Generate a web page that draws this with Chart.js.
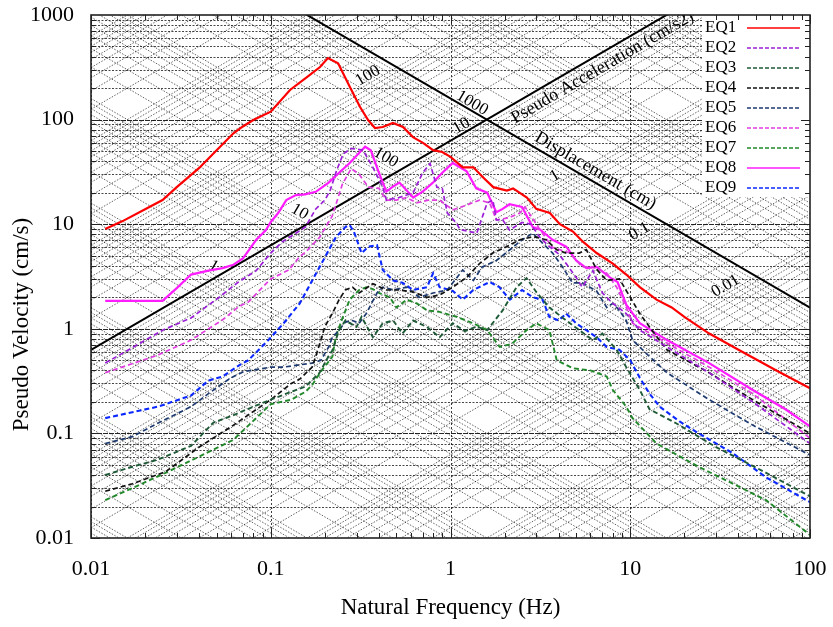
<!DOCTYPE html>
<html>
<head>
<meta charset="utf-8">
<script src="https://cdn.jsdelivr.net/npm/chart.js@4.4.1/dist/chart.umd.min.js"></script>
<style>
  html, body { margin: 0; padding: 0; background: #fff; }
</style>
</head>
<body>
<canvas id="myChart" width="833" height="627"></canvas>
<script>
// ---- data (frequency in Hz, pseudo velocity in cm/s) ----
const seriesNames = ['EQ1', 'EQ2', 'EQ3', 'EQ4', 'EQ5', 'EQ6', 'EQ7', 'EQ8', 'EQ9'];

const eq1Freq = [0.012,0.015,0.02,0.025,0.03,0.04,0.05,0.062,0.07,0.08,0.1,0.128,0.159,0.188,0.208,0.237,0.276,0.314,0.348,0.38,0.42,0.478,0.544,0.618,0.703,0.8,0.9,1.0,1.17,1.34,1.52,1.73,2.06,2.23,2.66,3.0,3.57,4.06,4.8,5.45,6.5,8.0,9.5,11.3,14,17,20,27.5,40,65,100];
const eq1Vel = [9,10.7,13.9,17,22.6,34.5,51,74,86,99,119,192,255,318,388,346,204,132,99,83,85,93,85,68,60,51,49,44,35,35,28,22.6,21,22,18,14,12.8,10,8.5,6.8,5.3,4.2,3.3,2.5,1.9,1.6,1.3,0.9,0.63,0.40,0.27];

const eq2Freq = [0.012,0.025,0.036,0.051,0.065,0.083,0.1,0.116,0.138,0.156,0.178,0.2,0.214,0.233,0.253,0.28,0.326,0.37,0.42,0.44,0.52,0.62,0.7,0.77,0.84,0.9,0.96,1.08,1.13,1.4,1.6,1.72,1.8,1.95,2.13,2.5,2.8,3.14,3.55,4.0,4.4,5.0,5.4,6.2,7.0,8.0,9.5,11.3,16,27.5,48,100];
const eq2Vel = [0.47,0.97,1.27,1.97,2.74,3.6,5.3,6.8,8.2,9.4,14,17,21,33,47,53,51,35,22.6,17,18,20,31,38,22.6,22,12.8,10.2,8.9,8.2,16,17,11,11,8.8,10.4,10,7.5,6.1,5.2,4.2,3.1,2.5,3.6,2.2,1.75,1.4,0.97,0.67,0.38,0.2,0.08];

const eq3Freq = [0.012,0.017,0.0235,0.036,0.042,0.048,0.06,0.08,0.1,0.13,0.156,0.187,0.21,0.22,0.24,0.26,0.3,0.32,0.37,0.42,0.48,0.54,0.62,0.74,0.87,1.03,1.2,1.4,1.6,1.95,2.33,2.65,3.0,3.55,4.4,5.2,6.2,7.0,8.4,9.5,11.3,12.8,18,30,57,100];
const eq3Vel = [0.04,0.048,0.056,0.076,0.1,0.127,0.146,0.18,0.21,0.25,0.28,0.38,0.55,0.62,0.97,1.2,1.04,1.3,0.83,1.13,1.2,0.9,1.2,1.04,0.83,1.13,0.95,1.05,0.97,1.5,2.5,3.05,2.25,1.6,1.2,0.97,0.78,0.9,0.63,0.43,0.26,0.17,0.125,0.074,0.042,0.025];

const eq4Freq = [0.012,0.017,0.026,0.04,0.062,0.1,0.13,0.145,0.17,0.18,0.19,0.2,0.22,0.24,0.26,0.285,0.31,0.37,0.44,0.52,0.62,0.74,0.87,1.03,1.23,1.45,1.72,2.05,2.43,2.9,3.4,3.9,4.4,5.2,5.7,6.5,7.4,8.7,10,11.3,13.3,16,27.5,48,100];
const eq4Vel = [0.028,0.033,0.043,0.074,0.12,0.21,0.3,0.33,0.43,0.58,0.78,1.05,1.4,1.9,2.35,2.5,2.2,2.7,2.35,2.35,2.25,2.0,2.1,2.5,3.1,4.2,5.3,6.1,7.1,7.6,7.1,5.7,5.3,5.3,5.7,3.7,2.9,3.0,2.0,1.4,0.95,0.63,0.38,0.21,0.1];

const eq5Freq = [0.012,0.017,0.0235,0.036,0.045,0.06,0.071,0.1,0.117,0.17,0.19,0.21,0.22,0.24,0.26,0.285,0.31,0.34,0.39,0.42,0.48,0.57,0.67,0.8,0.96,1.03,1.17,1.34,1.5,1.8,2.14,2.5,2.87,3.25,3.7,4.2,4.77,5.4,6.5,7.4,8.0,8.7,9.5,10.3,12.3,16,27.5,48,100];
const eq5Vel = [0.08,0.093,0.125,0.18,0.24,0.34,0.39,0.43,0.43,0.47,0.5,0.67,0.83,0.97,1.16,1.2,1.13,1.4,2.2,2.5,2.35,2.5,2.0,2.2,2.35,2.75,3.65,2.9,3.9,4.5,5.7,7.1,8.2,6.6,5.3,3.9,2.75,2.75,2.3,1.6,1.75,1.5,1.2,0.78,0.58,0.38,0.21,0.12,0.062];

const eq6Freq = [0.012,0.0235,0.036,0.054,0.067,0.075,0.086,0.1,0.126,0.145,0.156,0.187,0.22,0.25,0.28,0.31,0.35,0.4,0.44,0.5,0.57,0.65,0.75,0.87,1.03,1.2,1.45,1.65,1.8,2.1,2.43,2.6,3.14,3.7,4.6,5.4,6.2,7.4,8.4,9.5,10.3,16,27.5,48,100];
const eq6Vel = [0.38,0.56,0.78,1.22,1.65,1.8,2.3,3.0,3.65,4.9,5.4,7.5,12,24,34,30,22.6,22,17,17,18,16,17,17,13.7,15,17,16,11,11.5,12.8,14.6,8.9,6,5.3,3.9,3.9,3.4,2.5,1.6,1.13,0.73,0.43,0.24,0.09];

const eq7Freq = [0.012,0.017,0.026,0.04,0.062,0.1,0.13,0.156,0.17,0.19,0.22,0.23,0.25,0.275,0.31,0.34,0.37,0.4,0.46,0.5,0.57,0.65,0.74,0.87,1.08,1.34,1.6,1.88,2.2,2.65,3.0,3.55,3.9,4.8,6.0,7.4,8.0,9.5,10.3,14,24,57,100];
const eq7Vel = [0.023,0.03,0.042,0.06,0.087,0.19,0.21,0.25,0.29,0.39,0.54,0.84,1.25,1.9,2.35,2.5,2.4,2.2,2.0,1.6,1.9,1.75,1.5,1.45,1.3,1.13,0.97,0.67,0.72,0.97,1.13,0.97,0.5,0.42,0.4,0.35,0.26,0.18,0.14,0.08,0.048,0.023,0.0107];

const eq8Freq = [0.012,0.025,0.03,0.036,0.045,0.054,0.062,0.07,0.077,0.083,0.094,0.1,0.11,0.122,0.138,0.155,0.178,0.21,0.24,0.275,0.31,0.335,0.36,0.4,0.44,0.48,0.52,0.62,0.7,0.8,0.9,1.03,1.23,1.39,1.6,1.8,1.95,2.13,2.5,2.87,3.14,3.7,4.4,5.0,5.7,6.5,7.7,8.5,9.5,11.3,16,27.5,48,73,100];
const eq8Vel = [1.85,1.85,2.45,3.3,3.6,3.8,4.1,4.7,5.9,7.1,8.8,10.5,12.8,17,19,19.3,20.4,25,31,38.5,48,55,51,31,20.5,23,25,18,20.5,25,31,38.5,32,22,20,13,14,15.5,14.6,9.4,8.9,7.1,6.1,4.5,3.8,3.9,3.1,2.8,1.7,1.13,0.78,0.47,0.26,0.17,0.117];

const eq9Freq = [0.012,0.0235,0.036,0.045,0.054,0.067,0.075,0.097,0.118,0.145,0.187,0.23,0.26,0.275,0.29,0.32,0.35,0.39,0.42,0.48,0.54,0.62,0.74,0.8,0.87,1.03,1.17,1.34,1.65,1.87,2.14,2.5,2.87,3.25,3.55,4.0,4.4,5.0,5.7,6.5,7.4,8.7,10,11.3,12.8,14.6,18.8,24,37,57,100];
const eq9Vel = [0.14,0.18,0.23,0.32,0.35,0.45,0.5,0.78,1.13,1.75,3.9,7.5,9.4,9.8,8.5,5.3,6.1,6.3,3.65,2.9,2.75,2.35,2.5,3.4,2.5,2.3,1.9,2.35,2.8,2.5,1.9,2.35,2.0,1.9,1.3,1.2,1.4,1.13,0.97,0.83,0.67,0.63,0.5,0.34,0.24,0.18,0.13,0.1,0.065,0.038,0.022];

const xTickValues = [0.01, 0.1, 1, 10, 100];
const xTickLabels = ['0.01', '0.1', '1', '10', '100'];
const yTickValues = [0.01, 0.1, 1, 10, 100, 1000];
const yTickLabels = ['0.01', '0.1', '1', '10', '100', '1000'];

// tripartite reference lines and their labels
const refAccel = 1000;                  // cm/s2, bold line falling to the right
const refDisp = 10;                     // cm, bold line rising to the right
const accelLabels = [1, 10, 100, 1000]; // written along the displacement line
const dispLabels = [100, 10, 1, 0.1, 0.01]; // written along the acceleration line

// ---- styles ----
const eqStyles = [
  { color: '#ff0000', dash: [], width: 2.2 },
  { color: '#9b1fd6', dash: [5, 3], width: 1.7 },
  { color: '#1f5a37', dash: [5, 3], width: 1.9 },
  { color: '#111111', dash: [5, 3], width: 1.7 },
  { color: '#1d3a70', dash: [5, 3], width: 1.7 },
  { color: '#e13de1', dash: [5, 3], width: 1.7 },
  { color: '#21892a', dash: [5, 3], width: 1.9 },
  { color: '#ff1cff', dash: [], width: 2.2 },
  { color: '#0a28ff', dash: [5, 3], width: 2.1 }
];
const serif = '"Liberation Serif", "Times New Roman", serif';

const freqs = [eq1Freq, eq2Freq, eq3Freq, eq4Freq, eq5Freq, eq6Freq, eq7Freq, eq8Freq, eq9Freq];
const vels = [eq1Vel, eq2Vel, eq3Vel, eq4Vel, eq5Vel, eq6Vel, eq7Vel, eq8Vel, eq9Vel];

const datasets = seriesNames.map((name, i) => ({
  label: name,
  data: freqs[i].map((f, j) => ({ x: f, y: vels[i][j] })),
  borderColor: eqStyles[i].color,
  borderWidth: eqStyles[i].width,
  borderDash: eqStyles[i].dash,
  pointRadius: 0,
  fill: false,
  tension: 0
}));

function drawLine(ctx, x0, y0, x1, y1) {
  ctx.beginPath();
  ctx.moveTo(x0, y0);
  ctx.lineTo(x1, y1);
  ctx.stroke();
}

function rotatedText(ctx, text, px, py, angle, align) {
  ctx.save();
  ctx.translate(px, py);
  ctx.rotate(angle);
  ctx.textAlign = align;
  ctx.textBaseline = 'middle';
  ctx.fillText(text, 0, 0);
  ctx.restore();
}

// grid of constant velocity, acceleration and displacement + the two bold lines
const tripartite = {
  id: 'tripartite',
  beforeDatasetsDraw(chart) {
    const { ctx, chartArea: a, scales: { x, y } } = chart;
    const twoPi = 2 * Math.PI;
    const fMin = x.min, fMax = x.max;
    ctx.save();
    ctx.fillStyle = '#fff';
    ctx.fillRect(a.left, a.top, a.width, a.height);
    ctx.beginPath();
    ctx.rect(a.left, a.top, a.width, a.height);
    ctx.clip();

    // horizontal lines at every 1..9 x 10^n
    ctx.lineWidth = 1;
    for (let e = -2; e <= 2; e++) {
      for (let k = 1; k <= 9; k++) {
        const py = Math.round(y.getPixelForValue(k * Math.pow(10, e))) + 0.5;
        ctx.strokeStyle = k === 1 ? 'rgba(0,0,0,0.85)' : 'rgba(0,0,0,0.72)';
        ctx.setLineDash(k === 1 ? [5, 1] : [2, 1.5]);
        drawLine(ctx, a.left, py, a.right, py);
      }
    }
    // vertical lines at decades only
    ctx.strokeStyle = 'rgba(0,0,0,0.75)';
    ctx.setLineDash([2, 2]);
    xTickValues.forEach(v => {
      const px = Math.round(x.getPixelForValue(v)) + 0.5;
      drawLine(ctx, px, a.top, px, a.bottom);
    });

    // diagonal lines
    ctx.strokeStyle = 'rgba(0,0,0,0.68)';
    ctx.lineWidth = 0.9;
    ctx.setLineDash([1.5, 1.5]);
    for (let e = -4; e <= 5; e++) {
      for (let k = 1; k <= 9; k++) {
        const acc = k * Math.pow(10, e);
        drawLine(ctx, x.getPixelForValue(fMin), y.getPixelForValue(acc / (twoPi * fMin)),
                 x.getPixelForValue(fMax), y.getPixelForValue(acc / (twoPi * fMax)));
      }
    }
    for (let e = -5; e <= 4; e++) {
      for (let k = 1; k <= 9; k++) {
        const d = k * Math.pow(10, e);
        drawLine(ctx, x.getPixelForValue(fMin), y.getPixelForValue(twoPi * fMin * d),
                 x.getPixelForValue(fMax), y.getPixelForValue(twoPi * fMax * d));
      }
    }

    // bold reference lines
    ctx.setLineDash([]);
    ctx.strokeStyle = '#000';
    ctx.lineWidth = 2;
    drawLine(ctx, x.getPixelForValue(fMin), y.getPixelForValue(refAccel / (twoPi * fMin)),
             x.getPixelForValue(fMax), y.getPixelForValue(refAccel / (twoPi * fMax)));
    drawLine(ctx, x.getPixelForValue(fMin), y.getPixelForValue(twoPi * fMin * refDisp),
             x.getPixelForValue(fMax), y.getPixelForValue(twoPi * fMax * refDisp));

    // labels along the bold lines
    const ang = Math.atan2(y.getPixelForValue(1) - y.getPixelForValue(10),
                           x.getPixelForValue(10) - x.getPixelForValue(1));
    ctx.fillStyle = '#000';
    ctx.font = '17px ' + serif;
    accelLabels.forEach(acc => {
      const f = Math.sqrt(acc / refDisp) / twoPi;
      const v = Math.sqrt(acc * refDisp);
      rotatedText(ctx, String(acc), x.getPixelForValue(f), y.getPixelForValue(v) - 8, ang, 'right');
    });
    dispLabels.forEach(d => {
      const f = Math.sqrt(refAccel / d) / twoPi;
      const v = Math.sqrt(refAccel * d);
      rotatedText(ctx, String(d), x.getPixelForValue(f) - 18, y.getPixelForValue(v) + 2, -ang, 'right');
    });
    ctx.font = '18px ' + serif;
    const fa = 7;
    rotatedText(ctx, 'Pseudo Acceleration (cm/s2)', x.getPixelForValue(fa),
                y.getPixelForValue(twoPi * fa * refDisp) + 15, -ang, 'center');
    const fd = 6.4;
    rotatedText(ctx, 'Displacement (cm)', x.getPixelForValue(fd),
                y.getPixelForValue(refAccel / (twoPi * fd)) - 12, ang, 'center');
    ctx.restore();
  },

  afterDatasetsDraw(chart) {
    const { ctx, chartArea: a, scales: { x, y } } = chart;
    ctx.save();

    // legend inside the top right corner
    const lgLeft = a.right - 108;
    const rowH = 20;
    ctx.fillStyle = '#fff';
    ctx.fillRect(lgLeft, a.top, a.right - lgLeft, rowH * seriesNames.length + 2);
    ctx.font = '17px ' + serif;
    ctx.textAlign = 'left';
    ctx.textBaseline = 'middle';
    chart.data.datasets.forEach((ds, i) => {
      const cy = a.top + 13 + i * rowH;
      ctx.fillStyle = '#000';
      ctx.fillText(ds.label, lgLeft + 3, cy);
      ctx.strokeStyle = ds.borderColor;
      ctx.lineWidth = ds.borderDash.length ? 1.3 : 1.6;
      ctx.setLineDash(ds.borderDash.length ? [4, 2] : []);
      drawLine(ctx, lgLeft + 45, cy, lgLeft + 98, cy);
    });
    ctx.setLineDash([]);

    // tick marks on all four sides, pointing inwards
    ctx.strokeStyle = '#222';
    ctx.lineWidth = 1;
    for (let e = -2; e <= 2; e++) {
      for (let k = 1; k <= 9; k++) {
        const v = k * Math.pow(10, e);
        const len = k === 1 ? 9 : 5;
        if (v <= x.max) {
          const px = Math.round(x.getPixelForValue(v)) + 0.5;
          drawLine(ctx, px, a.bottom, px, a.bottom - len);
          drawLine(ctx, px, a.top, px, a.top + len);
        }
        const py = Math.round(y.getPixelForValue(v)) + 0.5;
        drawLine(ctx, a.left, py, a.left + len, py);
        drawLine(ctx, a.right, py, a.right - len, py);
      }
    }

    // frame
    ctx.strokeStyle = '#222';
    ctx.lineWidth = 1.6;
    ctx.strokeRect(a.left, a.top, a.width, a.height);

    // axis titles
    ctx.fillStyle = '#000';
    ctx.font = '23px ' + serif;
    ctx.textAlign = 'center';
    ctx.textBaseline = 'middle';
    ctx.fillText('Natural Frequency (Hz)', (a.left + a.right) / 2, a.bottom + 70);
    ctx.save();
    ctx.translate(22, (a.top + a.bottom) / 2 + 48);
    ctx.rotate(-Math.PI / 2);
    ctx.fillText('Pseudo Velocity (cm/s)', 0, 0);
    ctx.restore();
    ctx.restore();
  }
};

const tickFont = { family: serif, size: 22 };
const ctx = document.getElementById('myChart');

new Chart(ctx, {
  type: 'line',
  data: { datasets: datasets },
  options: {
    responsive: false,
    animation: false,
    layout: { padding: { left: 0, right: 23, top: 15, bottom: 0 } },
    plugins: { legend: { display: false }, tooltip: { enabled: false } },
    scales: {
      x: {
        type: 'logarithmic',
        min: 0.01,
        max: 100,
        grid: { display: false, drawTicks: false },
        border: { display: false },
        afterBuildTicks: s => { s.ticks = xTickValues.map(v => ({ value: v })); },
        afterFit: s => { s.height = 89; s.paddingLeft = 0; s.paddingRight = 0; },
        ticks: {
          autoSkip: false, maxRotation: 0, padding: 18, color: '#000', font: tickFont,
          callback: v => xTickLabels[xTickValues.indexOf(v)]
        }
      },
      y: {
        type: 'logarithmic',
        min: 0.01,
        max: 1000,
        grid: { display: false, drawTicks: false },
        border: { display: false },
        afterBuildTicks: s => { s.ticks = yTickValues.map(v => ({ value: v })); },
        afterFit: s => { s.width = 91; s.paddingTop = 0; s.paddingBottom = 0; },
        ticks: {
          autoSkip: false, padding: 17, color: '#000', font: tickFont,
          callback: v => yTickLabels[yTickValues.indexOf(v)]
        }
      }
    }
  },
  plugins: [tripartite]
});
</script>
</body>
</html>
